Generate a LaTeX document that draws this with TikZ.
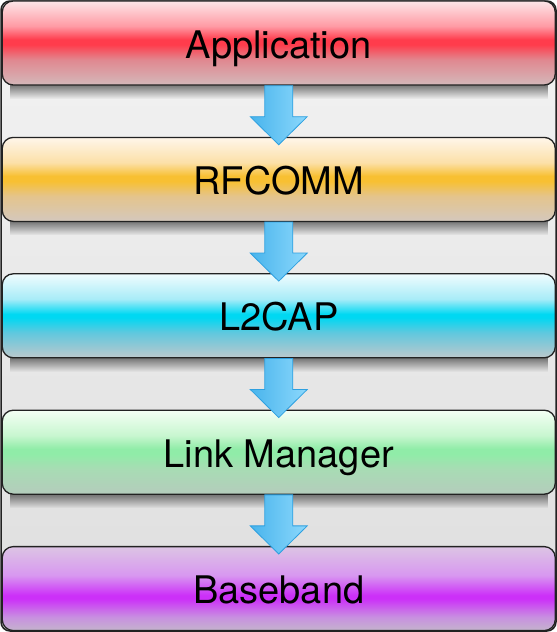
\documentclass[tikz,border=0pt]{standalone}
\usepackage{fontspec}
\setmainfont{TeX Gyre Heros}
\usetikzlibrary{calc,fadings}
\definecolor{frameT}{HTML}{F3F3F3}
\definecolor{frameB}{HTML}{DEDEDE}
\definecolor{lineC}{HTML}{222222}
\definecolor{arL}{HTML}{48B4EC}
\definecolor{arR}{HTML}{8CD8FC}
\definecolor{arD}{HTML}{2EA0E0}
% red
\definecolor{rT}{HTML}{FDE6E8}\definecolor{rU}{HTML}{FF9AA4}\definecolor{rS}{HTML}{FF3C4C}\definecolor{rD}{HTML}{E08890}\definecolor{rB}{HTML}{D4B8BA}
% orange
\definecolor{oT}{HTML}{FFF6EA}\definecolor{oU}{HTML}{FCE0A8}\definecolor{oS}{HTML}{F8C032}\definecolor{oD}{HTML}{E4C48C}\definecolor{oB}{HTML}{D4C8BE}
% cyan
\definecolor{cT}{HTML}{F0FCFE}\definecolor{cU}{HTML}{A8ECF8}\definecolor{cS}{HTML}{00D8F2}\definecolor{cD}{HTML}{60C8DE}\definecolor{cB}{HTML}{BCC8CC}
% green
\definecolor{gT}{HTML}{F4FFF4}\definecolor{gU}{HTML}{C8F6D0}\definecolor{gS}{HTML}{90ECA8}\definecolor{gD}{HTML}{A8DCB4}\definecolor{gB}{HTML}{B4CCBC}
% purple
\definecolor{pT}{HTML}{DCC4E4}\definecolor{pU}{HTML}{D898F0}\definecolor{pS}{HTML}{CC30F8}\definecolor{pD}{HTML}{C890E0}\definecolor{pB}{HTML}{C4B4CC}
\pgfdeclareverticalshading{redsh}{100bp}{color(0bp)=(rB); color(25bp)=(rB); color(40bp)=(rD); color(49bp)=(rS); color(52bp)=(rS); color(60bp)=(rU); color(75bp)=(rT); color(100bp)=(rT)}
\pgfdeclareverticalshading{orangesh}{100bp}{color(0bp)=(oB); color(25bp)=(oB); color(40bp)=(oD); color(49bp)=(oS); color(52bp)=(oS); color(60bp)=(oU); color(75bp)=(oT); color(100bp)=(oT)}
\pgfdeclareverticalshading{cyansh}{100bp}{color(0bp)=(cB); color(25bp)=(cB); color(40bp)=(cD); color(49bp)=(cS); color(51bp)=(cS); color(60bp)=(cU); color(75bp)=(cT); color(100bp)=(cT)}
\pgfdeclareverticalshading{greensh}{100bp}{color(0bp)=(gB); color(25bp)=(gB); color(40bp)=(gD); color(49bp)=(gS); color(52bp)=(gS); color(60bp)=(gU); color(75bp)=(gT); color(100bp)=(gT)}
\pgfdeclareverticalshading{purplesh}{100bp}{color(0bp)=(pB); color(25bp)=(pB); color(33bp)=(pD); color(44bp)=(pS); color(46bp)=(pS); color(58bp)=(pU); color(75bp)=(pT); color(100bp)=(pT)}
\tikzset{
  layerbox/.style={draw=lineC, line width=1.3pt, rounded corners=11pt,
    minimum width=553pt, minimum height=84pt, inner sep=0pt,
    text height=30pt, text depth=0pt, font=\fontsize{38}{40}\selectfont},
  flowarrow/.style={left color=arL, right color=arR, draw=arD, line width=0.8pt, line join=miter},
  boxshadow/.style={fill=black, path fading=south, opacity=0.5}
}
\begin{document}
\begin{tikzpicture}[x=1pt,y=-1pt]
\useasboundingbox (0,0) rectangle (557,632);
\shade[top color=frameT, bottom color=frameB, draw=lineC, line width=1.5pt, rounded corners=9pt] (1,1) rectangle (556,631);
% shadows
\foreach \t in {1,137.4,273.8,410.2}{
  \fill[boxshadow] (10,\t+84) rectangle (548,\t+98);
}
\node[layerbox, shading=redsh] (app) at (278.75,43) {Application};
\node[layerbox, shading=orangesh] (rfc) at (278.75,179.4) {RFCOMM};
\node[layerbox, shading=cyansh] (l2) at (278.75,315.8) {L2CAP};
\node[layerbox, shading=greensh] (lm) at (278.75,452.2) {Link Manager};
\node[layerbox, shading=purplesh] (bb) at (278.75,588.6) {Baseband};
\foreach \a/\b in {app/rfc, rfc/l2, l2/lm, lm/bb}{
  \shade[flowarrow] ($(\a.south)+(-14,0)$) -- ($(\a.south)+(14,0)$) -- ($(\a.south)+(14,31)$)
    -- ($(\a.south)+(28.5,31)$) -- ($(\b.north)+(0,8)$) -- ($(\a.south)+(-28.5,31)$)
    -- ($(\a.south)+(-14,31)$) -- cycle;
}
\end{tikzpicture}
\end{document}
